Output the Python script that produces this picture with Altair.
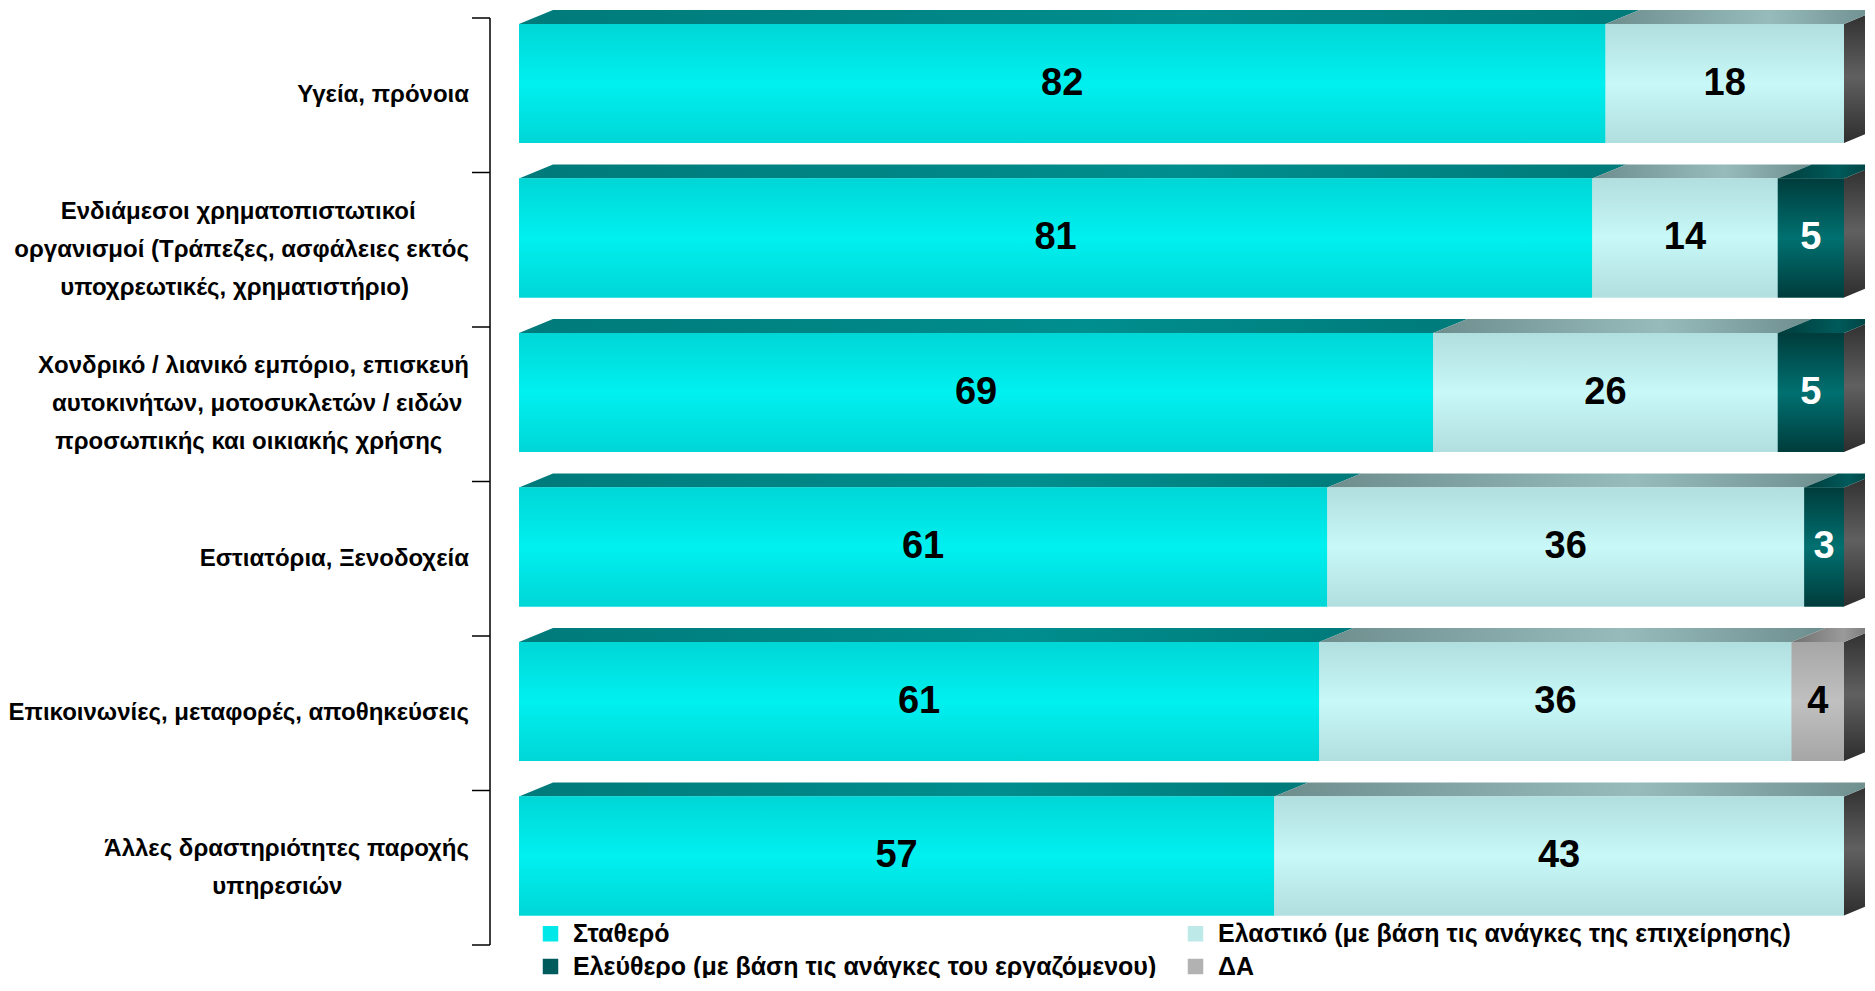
import altair as alt
import pandas as pd

# ---------------- data ----------------
categories = [
    "Υγεία, πρόνοια",
    "Ενδιάμεσοι χρηματοπιστωτικοί\nοργανισμοί (Τράπεζες, ασφάλειες εκτός\nυποχρεωτικές, χρηματιστήριο)",
    "Χονδρικό / λιανικό εμπόριο, επισκευή\nαυτοκινήτων, μοτοσυκλετών / ειδών\nπροσωπικής και οικιακής χρήσης",
    "Εστιατόρια, Ξενοδοχεία",
    "Επικοινωνίες, μεταφορές, αποθηκεύσεις",
    "Άλλες δραστηριότητες παροχής\nυπηρεσιών",
]
series_names = [
    "Σταθερό",
    "Ελαστικό (με βάση τις ανάγκες της επιχείρησης)",
    "Ελεύθερο (με βάση τις ανάγκες του εργαζόμενου)",
    "ΔΑ",
]
stathero = [82, 81, 69, 61, 61, 57]
elastiko = [18, 14, 26, 36, 36, 43]
eleuthero = [0, 5, 5, 3, 0, 0]
da = [0, 0, 0, 0, 4, 0]

# ---------------- style ----------------
front_colors = ["#00E8E8", "#BDE9E9", "#005C5C", "#B2B2B2"]
front_grad = [
    ("#00D6D6", "#00F0F0"),
    ("#B1DEDE", "#C8F8F8"),
    ("#003C3C", "#007070"),
    ("#A6A6A6", "#C0C0C0"),
]
top_grad = [
    ("#007A7A", "#008E8E"),
    ("#6E8E8E", "#97BBBB"),
    ("#003C3C", "#005A5A"),
    ("#707070", "#9A9A9A"),
]
label_colors = ["black", "black", "white", "black"]
side_grad = ("#2E2E2E", "#606060")

ROW_PX = 154.5
FRONT_TOP = 6 / ROW_PX
FRONT_BOT = 125 / ROW_PX
DEPTH_Y = 14 / ROW_PX
PX_PER_PCT = 13.25
DEPTH_X = 34 / PX_PER_PCT
Y_MIN = -10 / ROW_PX
N = len(categories)
LINE_H = 38

FONT_CAT = "Liberation Sans"
FONT_VAL = "Liberation Sans Narrow, Noto Sans Condensed, Liberation Sans, sans-serif"


def est_width(s):
    w = 0.0
    for ch in s:
        if ch in "ιίϊ ,.()/ltfrj":
            w += 0.29
        elif ch.isupper():
            w += 0.70
        else:
            w += 0.58
    return w


def center_block(label):
    lines = label.split("\n")
    widths = [est_width(l) for l in lines]
    m = max(widths)
    out = []
    for l, w in zip(lines, widths):
        pad = int(round((m - w) / 2 / 0.278))
        out.append(l + "\u00a0" * pad + "\u200b" if pad else l)
    return "\n".join(out)


def grad(c_edge, c_mid, horizontal=False, mid=0.5):
    kw = dict(x1=0, x2=1, y1=0, y2=0) if horizontal else dict(x1=0, x2=0, y1=0, y2=1)
    return alt.LinearGradient(
        gradient="linear",
        stops=[alt.GradientStop(offset=0, color=c_edge),
               alt.GradientStop(offset=mid, color=c_mid),
               alt.GradientStop(offset=1, color=c_edge)],
        **kw,
    )


values_by_series = [stathero, elastiko, eleuthero, da]

seg_rows, top_rows, side_rows = [], [], []
for i in range(N):
    total = sum(v[i] for v in values_by_series)
    start = 0.0
    ft = i + FRONT_TOP
    fb = i + FRONT_BOT
    for s, name in enumerate(series_names):
        v = values_by_series[s][i]
        if v <= 0:
            continue
        x0, x1 = start, start + v * 100.0 / total
        start = x1
        seg_rows.append(dict(row=i, series=name, sidx=s, value=v, x0=x0, x1=x1,
                             xm=(x0 + x1) / 2, yt=ft, yb=fb, ym=(ft + fb) / 2,
                             lab_color=label_colors[s]))
        seg = f"s{i}_{s}"
        pts = [(x0, ft, ft), (x0 + DEPTH_X, ft, ft - DEPTH_Y),
               (x1, ft, ft - DEPTH_Y), (x1 + DEPTH_X, ft - DEPTH_Y, ft - DEPTH_Y)]
        for k, (xx, ya, yb2) in enumerate(pts):
            top_rows.append(dict(seg=seg, sidx=s, k=k, px=xx, py=ya, py2=yb2))
    for k, (xx, ya, yb2) in enumerate([(start, fb, ft),
                                       (start + DEPTH_X, fb - DEPTH_Y, ft - DEPTH_Y)]):
        side_rows.append(dict(row=f"r{i}", k=k, px=xx, py=ya, py2=yb2))

segs = pd.DataFrame(seg_rows)
tops = pd.DataFrame(top_rows)
sides = pd.DataFrame(side_rows)
cats = pd.DataFrame({
    "label": [center_block(c) for c in categories],
    "yc": [i + 0.5 - (c.count("\n") * LINE_H / 2) / ROW_PX for i, c in enumerate(categories)],
})
bounds = pd.DataFrame({"b": list(range(N + 1))})

xsc = alt.Scale(domain=[0, 100], nice=False, zero=False)
ysc = alt.Scale(domain=[Y_MIN, N], reverse=True, nice=False, zero=False)

front = alt.Chart(segs).mark_rect().encode(
    x=alt.X("x0:Q", scale=xsc, axis=None),
    x2="x1:Q",
    y=alt.Y("yt:Q", scale=ysc, axis=None),
    y2="yb:Q",
    color=alt.Color(
        "series:N",
        scale=alt.Scale(domain=series_names, range=front_colors),
        sort=series_names,
        legend=alt.Legend(
            orient="none", legendX=19, legendY=913, columns=2, direction="horizontal",
            title=None, symbolType="square", symbolSize=240, symbolStrokeWidth=0,
            labelFont=FONT_CAT, labelFontSize=25, labelFontWeight="bold",
            labelColor="black", labelOffset=10, labelLimit=1200,
            columnPadding=26, rowPadding=7,
        ),
    ),
)

grad_layers = []
top_layers = []
for s, name in enumerate(series_names):
    e, c = front_grad[s]
    grad_layers.append(
        alt.Chart(segs).transform_filter(alt.datum.sidx == s)
        .mark_rect(color=grad(e, c)).encode(
            x=alt.X("x0:Q", scale=xsc, axis=None),
            x2="x1:Q",
            y=alt.Y("yt:Q", scale=ysc, axis=None),
            y2="yb:Q",
        )
    )
    te, tc = top_grad[s]
    top_layers.append(
        alt.Chart(tops).transform_filter(alt.datum.sidx == s)
        .mark_area(interpolate="linear", orient="vertical", color=grad(te, tc, True, 0.6))
        .encode(
            x=alt.X("px:Q", scale=xsc, axis=None),
            y=alt.Y("py:Q", scale=ysc, axis=None, stack=None),
            y2="py2:Q",
            detail="seg:N",
        )
    )

side = alt.Chart(sides).mark_area(
    interpolate="linear", orient="vertical", color=grad(side_grad[0], side_grad[1])
).encode(
    x=alt.X("px:Q", scale=xsc, axis=None),
    y=alt.Y("py:Q", scale=ysc, axis=None, stack=None),
    y2="py2:Q",
    detail="row:N",
)

vals = alt.Chart(segs).mark_text(
    font=FONT_VAL, fontSize=38, fontWeight="bold", align="center", baseline="middle"
).encode(
    x=alt.X("xm:Q", scale=xsc, axis=None),
    y=alt.Y("ym:Q", scale=ysc, axis=None),
    text="value:Q",
    color=alt.Color("lab_color:N", scale=None),
)

vline = alt.Chart(bounds).mark_rule(color="black", strokeWidth=1.5).encode(
    x=alt.value(-29),
    y=alt.Y("min(b):Q", scale=ysc, axis=None),
    y2="max(b):Q",
)
ticks = alt.Chart(bounds).mark_rule(color="black", strokeWidth=1.5).encode(
    x=alt.value(-47),
    x2=alt.value(-29),
    y=alt.Y("b:Q", scale=ysc, axis=None),
)

labels = alt.Chart(cats).mark_text(
    font=FONT_CAT, fontSize=24, fontWeight="bold", align="right",
    baseline="middle", lineBreak="\n", lineHeight=LINE_H, color="black"
).encode(
    x=alt.value(-50),
    y=alt.Y("yc:Q", scale=ysc, axis=None),
    text="label:N",
)

chart = alt.layer(side, *top_layers, front, *grad_layers, vals, vline, ticks, labels).properties(
    width=1325,
    height=(N - Y_MIN) * ROW_PX,
    padding={"left": 511, "top": 0, "right": 21, "bottom": 33},
    autosize=alt.AutoSizeParams(type="none"),
).configure(background="white").configure_view(stroke=None)

chart.save("out.html", embed_options={"renderer": "svg", "actions": False})
